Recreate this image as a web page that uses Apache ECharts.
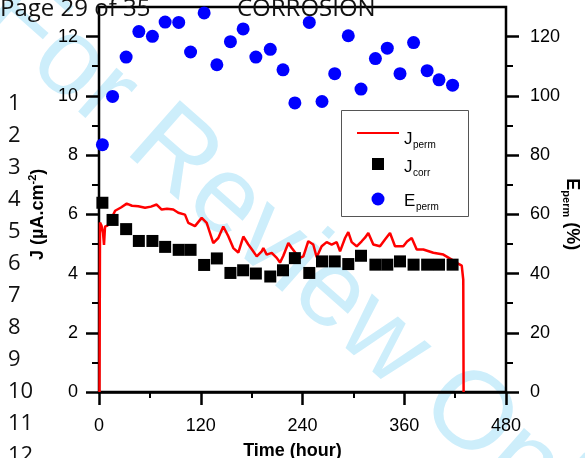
<!DOCTYPE html>
<html><head><meta charset="utf-8">
<script src="https://cdn.jsdelivr.net/npm/echarts@6/dist/echarts.min.js"></script>
<style>html,body{margin:0;padding:0;background:#fff}#c{width:585px;height:458px}</style>
</head><body><div id="c"></div>
<script>
// ---- data ----
const sampleHours = [4,16,32,47,63,78,94,108,124,139,155,170,185,202,217,231,248,263,278,294,309,326,340,355,371,387,401,417];
const jCorr = [6.39,5.81,5.50,5.10,5.10,4.90,4.80,4.80,4.29,4.51,4.02,4.11,4.00,3.90,4.11,4.52,4.02,4.41,4.41,4.32,4.60,4.30,4.30,4.41,4.30,4.30,4.30,4.30];
const ePerm = [83.5,99.8,113.1,121.7,120.1,124.9,124.8,114.8,128.0,110.5,118.3,122.6,113.1,115.7,108.8,97.6,124.8,98.1,107.5,120.3,102.3,112.6,116.1,107.5,118.0,108.5,105.4,103.6];
const permHours = [0.6,1.2,2.9,4.7,5.9,7.1,10,13,19,25.9,32.7,38.9,46.3,54.3,61.3,68,73.9,80.2,87.6,93.5,101.4,105.3,113.2,121.1,127,134.8,140.7,146.6,152.5,158.4,164.3,170.2,176.1,180.4,186,191.9,193.8,197.8,203.7,209.6,213.5,217.4,223.3,227.3,233.2,237.1,241,246.8,252.7,256.7,262.6,268.5,274.4,280.3,284.3,290.2,294,298,303.9,309.8,313.7,317.6,323.5,331.4,337.3,343.2,349.1,358.9,363.3,368.8,374.7,382.5,394.3,406.1,416,421.9,427.8,429.6,430];
const jPerm = [0,5.72,5.62,5.38,4.97,5.58,5.62,5.76,6.12,6.23,6.36,6.29,6.27,6.22,6.26,6.33,6.16,6.19,6.16,6.05,5.99,5.71,5.60,5.88,5.71,5.03,5.20,5.59,5.26,4.86,4.71,5.25,4.98,4.81,4.58,4.75,4.86,4.64,4.70,4.53,4.37,4.60,5.03,4.86,4.64,4.53,4.58,5.09,4.98,4.55,4.92,5.06,4.98,5.06,4.75,5.20,5.40,5.06,4.92,5.09,5.21,5.37,4.98,4.92,5.15,5.37,4.92,4.92,5.08,5.20,4.81,4.81,4.70,4.64,4.47,4.36,4.27,3.79,0];
const timeTicks = [0,120,240,360,480];
const jTicks = [0,2,4,6,8,10,12];
const eTicks = [0,20,40,60,80,100,120];
const jAxisTop = 13, eAxisTop = 130;
const legendMain = ['J', 'J', 'E'];
const legendSub = ['perm', 'corr', 'perm'];
const lineNumbers = ['1','2','3','4','5','6','7','8','9','10','11','12'];
const headerLeft = 'Page 29 of 35', headerRight = 'CORROSION', watermark = 'For Review Only';

// ---- layout ----
const AX = '"Liberation Sans", Arial, sans-serif';
const GL = 99, GR = 79, GT = 7, GB = 66, H = 458;
const plotH = H - GT - GB;
const tickTop = H - GB - plotH * (jTicks[jTicks.length - 1] / jAxisTop);
const RED = '#ff0000', BLACK = '#000', BLUE = '#0000ff';

const chart = echarts.init(document.getElementById('c'), null, {renderer: 'canvas', width: 585, height: 458});

const tickAxisBase = {
  gridIndex: 1, type: 'value', axisLine: {show: false},
  axisTick: {show: true, length: 13, lineStyle: {color: '#000', width: 2.5}},
  minorTick: {show: true, splitNumber: 2, length: 7, lineStyle: {color: '#000', width: 2}},
  splitLine: {show: false}, minorSplitLine: {show: false},
  nameLocation: 'middle'
};

const legIconY = [133, 164, 199];
const legTextY = [139.5, 167, 201];
const legendGraphic = [
  {type: 'rect', shape: {x: 341.5, y: 110.5, width: 127, height: 106}, style: {fill: '#fff', stroke: '#555', lineWidth: 1}, z: 50},
  {type: 'line', shape: {x1: 357, y1: legIconY[0], x2: 399, y2: legIconY[0]}, style: {stroke: RED, lineWidth: 2}, z: 51},
  {type: 'rect', shape: {x: 372, y: legIconY[1] - 6, width: 12, height: 12}, style: {fill: BLACK}, z: 51},
  {type: 'circle', shape: {cx: 378, cy: legIconY[2], r: 6.5}, style: {fill: BLUE}, z: 51}
];
legendMain.forEach((m, i) => {
  legendGraphic.push({type: 'text', x: 404, y: legTextY[i], z: 51,
    style: {text: m, fontSize: 17, fontFamily: AX, fill: '#000', verticalAlign: 'middle', textVerticalAlign: 'middle'}});
  legendGraphic.push({type: 'text', x: m === 'E' ? 416 : 413, y: legTextY[i] + 6, z: 51,
    style: {text: legendSub[i], fontSize: 10, fontFamily: AX, fill: '#000', verticalAlign: 'middle', textVerticalAlign: 'middle'}});
});

const option = {
  animation: false,
  backgroundColor: '#fff',
  grid: [
    {left: GL, right: GR, top: GT, bottom: GB, show: true, borderColor: '#000', borderWidth: 2.5, backgroundColor: 'transparent', containLabel: false, outerBoundsMode: 'none'},
    {left: GL, right: GR, top: tickTop, bottom: GB, show: false, containLabel: false, outerBoundsMode: 'none'}
  ],
  xAxis: [
    {gridIndex: 0, type: 'value', min: timeTicks[0], max: timeTicks[timeTicks.length - 1], interval: timeTicks[1] - timeTicks[0],
     axisLine: {show: true, lineStyle: {color: '#000', width: 2.5}},
     axisTick: {show: true, length: 13, lineStyle: {color: '#000', width: 2.5}},
     minorTick: {show: true, splitNumber: 2, length: 6, lineStyle: {color: '#000', width: 2}},
     splitLine: {show: false},
     axisLabel: {fontSize: 18, fontFamily: AX, color: '#000', margin: 25},
     name: 'Time (hour)', nameLocation: 'middle', nameGap: 50,
     nameTextStyle: {fontFamily: AX, fontWeight: 'bold', fontSize: 18, color: '#000', lineHeight: 18, padding: [0, 20, 0, 0]}},
    {gridIndex: 1, type: 'value', min: 0, max: 1, show: false}
  ],
  yAxis: [
    {gridIndex: 0, type: 'value', min: 0, max: jAxisTop, show: false},
    {gridIndex: 0, type: 'value', min: 0, max: eAxisTop, show: false, position: 'right'},
    Object.assign({}, tickAxisBase, {
      position: 'left', min: jTicks[0], max: jTicks[jTicks.length - 1], interval: jTicks[1] - jTicks[0],
      axisLabel: {fontSize: 18, fontFamily: AX, color: '#000', margin: 21},
      name: '{a|J (µA.cm}{s|-2}{a|)}', nameGap: 49,
      nameTextStyle: {fontFamily: AX, color: '#000', rich: {
        a: {fontFamily: AX, fontSize: 18, fontWeight: 'bold', color: '#000', lineHeight: 20, padding: [6, 0, 0, 0], verticalAlign: 'bottom'},
        s: {fontFamily: AX, fontSize: 11, fontWeight: 'bold', color: '#000', lineHeight: 11, verticalAlign: 'top'}
      }}
    }),
    Object.assign({}, tickAxisBase, {
      position: 'right', min: eTicks[0], max: eTicks[eTicks.length - 1], interval: eTicks[1] - eTicks[0],
      axisLabel: {fontSize: 18, fontFamily: AX, color: '#000', margin: 24},
      name: '{e|E}{s|perm}{a| (%)}', nameGap: 55, nameRotate: -90, nameMoveOverlap: false,
      nameTextStyle: {fontFamily: AX, color: '#000', rich: {
        e: {fontFamily: AX, fontSize: 18, fontWeight: 'bold', color: '#000', lineHeight: 20, verticalAlign: 'top'},
        a: {fontFamily: AX, fontSize: 18, fontWeight: 'bold', color: '#000', lineHeight: 20, verticalAlign: 'top'},
        s: {fontFamily: AX, fontSize: 11, fontWeight: 'bold', color: '#000', lineHeight: 12, padding: [14, 0, 0, 0], verticalAlign: 'bottom'}
      }}
    })
  ],
  graphic: [
    {type: 'text', x: 301, y: 268, rotation: -0.724, z: -10, silent: true,
     style: {text: watermark, fontSize: 110, fontFamily: AX, fill: '#cdeefb', align: 'center', verticalAlign: 'middle', textAlign: 'center', textVerticalAlign: 'middle'}},
    {type: 'text', x: 0, y: 9, z: 100, style: {text: headerLeft, fontSize: 24, fontFamily: '"Open Sans"', fill: '#111', verticalAlign: 'middle', textVerticalAlign: 'middle'}},
    {type: 'text', x: 237, y: 9, z: 100, style: {text: headerRight, fontSize: 24, fontFamily: '"Open Sans"', fill: '#111', verticalAlign: 'middle', textVerticalAlign: 'middle'}}
  ].concat(lineNumbers.map((t, i) => ({
    type: 'text', x: 8, y: 104 + 32 * i, z: 100,
    style: {text: t, fontSize: 22, fontFamily: '"Open Sans"', fill: '#111', verticalAlign: 'middle', textVerticalAlign: 'middle'}
  }))).concat(legendGraphic),
  series: [
    {name: 'Jperm', type: 'line', xAxisIndex: 0, yAxisIndex: 0, symbol: 'none',
     data: permHours.map((t, i) => [t, jPerm[i]]),
     lineStyle: {color: RED, width: 2.5}, itemStyle: {color: RED}, z: 2},
    {name: 'Jcorr', type: 'scatter', xAxisIndex: 0, yAxisIndex: 0, symbol: 'rect', symbolSize: 12,
     data: sampleHours.map((t, i) => [t, jCorr[i]]), itemStyle: {color: BLACK, opacity: 1}, z: 3},
    {name: 'Eperm', type: 'scatter', xAxisIndex: 0, yAxisIndex: 1, symbol: 'circle', symbolSize: 13,
     data: sampleHours.map((t, i) => [t, ePerm[i]]), itemStyle: {color: BLUE, opacity: 1}, z: 4}
  ]
};
chart.setOption(option);
</script></body></html>
